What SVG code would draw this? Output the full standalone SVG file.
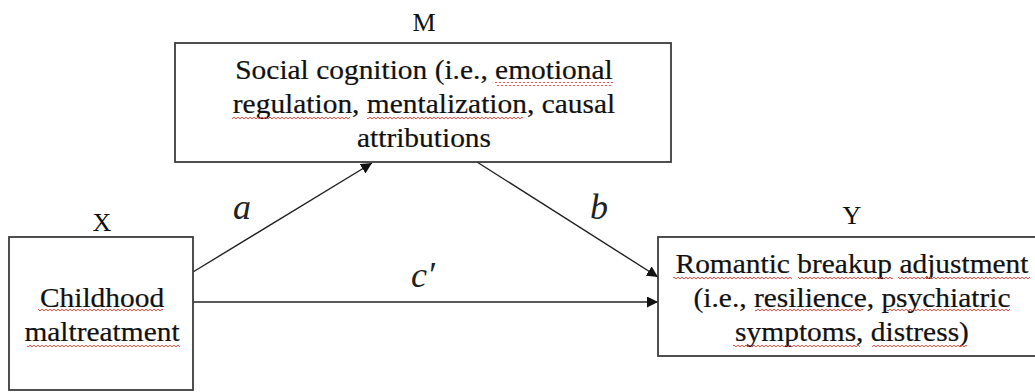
<svg xmlns="http://www.w3.org/2000/svg" width="1035" height="392" viewBox="0 0 1035 392">
<style>
.box{fill:#fff;stroke:#3c3c3c;stroke-width:1.8}
text{font-family:'Liberation Serif','Times New Roman',serif;fill:#111}
.t{font-size:27px;text-anchor:middle;stroke:#111;stroke-width:0.2}
.lbl{font-size:26px;text-anchor:middle}
.it{font-style:italic;font-size:36px;fill:#222}
.edge{stroke:#222;stroke-width:1.4;fill:none;marker-end:url(#arr)}
.sq{fill:url(#squig)}
</style>
<defs>
<marker id="arr" viewBox="0 0 10 10" refX="10" refY="5" markerWidth="11" markerHeight="11" markerUnits="userSpaceOnUse" orient="auto">
<path d="M0,0 L10,5 L0,10 z" fill="#111"/>
</marker>
<pattern id="squig" patternUnits="userSpaceOnUse" width="4" height="4">
<path d="M0,3 L2,1 L4,3" fill="none" stroke="#e8403a" stroke-width="0.9"/>
</pattern>
</defs>
<rect width="1035" height="392" fill="#fff"/>
<g id="connectors">
<line class="edge" x1="193" y1="272" x2="372" y2="163"/>
<line class="edge" x1="477" y1="162" x2="658" y2="277"/>
<line class="edge" x1="193" y1="302" x2="658" y2="302"/>
<text class="it" x="233" y="219">a</text>
<text class="it" x="590" y="219">b</text>
<text class="it" x="411" y="287">c′</text>
</g>
<g id="node-M">
<text class="lbl" x="424" y="31">M</text>
<rect class="box" x="175" y="43" width="496" height="119"/>
<g transform="translate(424,0) scale(1.09,1)">
<text class="t" x="0" y="79">Social cognition (i.e., emotional</text>
<text class="t" x="0" y="113">regulation, mentalization, causal</text>
<text class="t" x="0" y="147">attributions</text>
</g>
<rect class="sq" x="495" y="82" width="118" height="4"/>
<rect class="sq" x="232" y="116" width="118" height="4"/>
<rect class="sq" x="367" y="116" width="156" height="4"/>
</g>
<g id="node-X">
<text class="lbl" x="102" y="231">X</text>
<rect class="box" x="9" y="237" width="184" height="153"/>
<g transform="translate(102,0) scale(1.09,1)">
<text class="t" x="0" y="307">Childhood</text>
<text class="t" x="0" y="341">maltreatment</text>
</g>
<rect class="sq" x="38" y="309" width="125" height="4"/>
<rect class="sq" x="27" y="344" width="153" height="4"/>
</g>
<g id="node-Y">
<text class="lbl" x="852" y="224">Y</text>
<rect class="box" x="658" y="237" width="390" height="119"/>
<g transform="translate(852,0) scale(1.09,1)">
<text class="t" x="0" y="273">Romantic breakup adjustment</text>
<text class="t" x="0" y="307">(i.e., resilience, psychiatric</text>
<text class="t" x="0" y="341">symptoms, distress)</text>
</g>
<rect class="sq" x="673" y="275" width="119" height="4"/>
<rect class="sq" x="798" y="275" width="95" height="4"/>
<rect class="sq" x="898" y="275" width="132" height="4"/>
<rect class="sq" x="755" y="309" width="108" height="4"/>
<rect class="sq" x="887" y="309" width="123" height="4"/>
<rect class="sq" x="733" y="345" width="127" height="4"/>
<rect class="sq" x="872" y="345" width="95" height="4"/>
</g>
</svg>
